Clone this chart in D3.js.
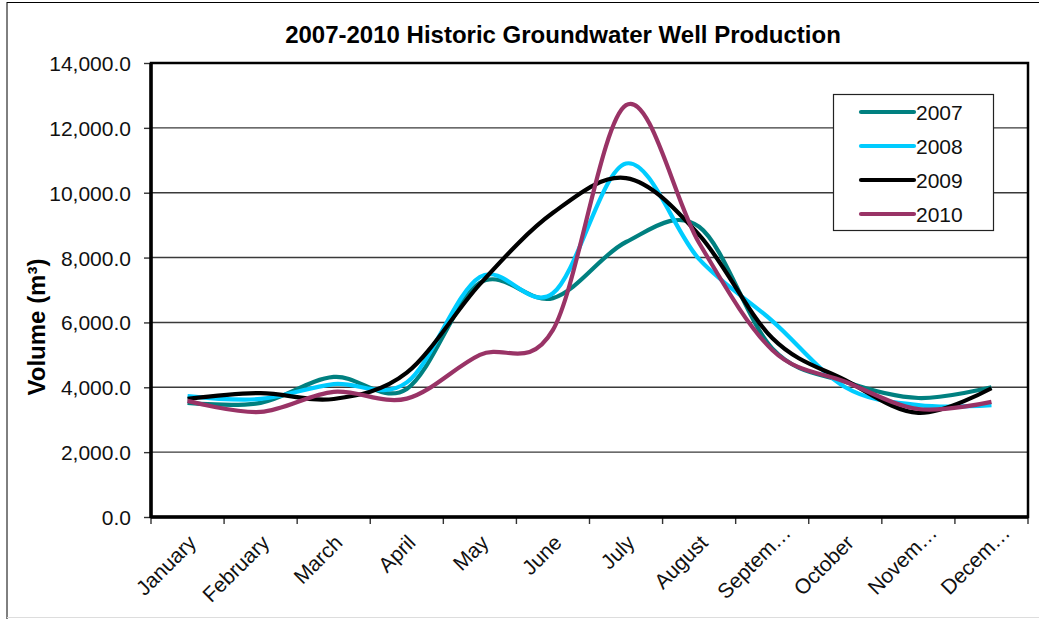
<!DOCTYPE html>
<html>
<head>
<meta charset="utf-8">
<script src="https://cdn.jsdelivr.net/npm/d3@7"></script>
<style>
  body { margin: 0; background: #fff; }
  svg { display: block; font-family: "Liberation Sans", Arial, sans-serif; }
</style>
</head>
<body>
<svg id="chart" width="1039" height="619"></svg>
<script>
// months on the x axis (Excel cut the long ones)
const months = ["January", "February", "March", "April", "May", "June", "July",
  "August", "Septem\u2026", "October", "Novem\u2026", "Decem\u2026"];
const years = ["2007", "2008", "2009", "2010"];
const colors = ["#008080", "#00ccff", "#000000", "#993366"];

// monthly volume, m3
const v2007 = [3520, 3520, 4320, 3950, 7220, 6750, 8480, 8950, 5200, 4170, 3670, 4000];
const v2008 = [3730, 3640, 4100, 4150, 7400, 6900, 10900, 7950, 6050, 4000, 3450, 3450];
const v2009 = [3640, 3820, 3640, 4450, 7180, 9380, 10450, 8700, 5520, 4220, 3210, 3970];
const v2010 = [3580, 3240, 3860, 3650, 5000, 5770, 12700, 8450, 5150, 4170, 3330, 3550];
const series = [v2007, v2008, v2009, v2010];

const yTicks = [0, 2000, 4000, 6000, 8000, 10000, 12000, 14000];

const svg = d3.select("#chart");
const plotL = 151, plotR = 1028, plotT = 63, plotB = 517;

// outer chart frame
svg.append("line").attr("x1", 7).attr("x2", 7).attr("y1", 2).attr("y2", 619)
  .attr("stroke", "#000").attr("stroke-width", 1);
svg.append("line").attr("x1", 7).attr("x2", 1039).attr("y1", 2.5).attr("y2", 2.5)
  .attr("stroke", "#000").attr("stroke-width", 1);
svg.append("line").attr("x1", 7).attr("x2", 1039).attr("y1", 617.5).attr("y2", 617.5)
  .attr("stroke", "#ddd").attr("stroke-width", 1);

const x = d3.scaleBand().domain(months).range([plotL, plotR]);
const y = d3.scaleLinear().domain([0, 14000]).range([plotB, plotT]);

// grid
svg.append("g").selectAll("line")
  .data(yTicks.slice(1, -1))
  .enter().append("line")
  .attr("x1", plotL).attr("x2", plotR)
  .attr("y1", d => y(d)).attr("y2", d => y(d))
  .attr("stroke", "#3a3a3a").attr("stroke-width", 1.4);

// y axis
const yAxis = svg.append("g")
  .attr("transform", "translate(" + plotL + ",0)")
  .call(d3.axisLeft(y).tickValues(yTicks).tickFormat(d3.format(",.1f")).tickSize(7).tickPadding(13));
yAxis.select(".domain").remove();
yAxis.selectAll("line").attr("stroke", "#333").attr("stroke-width", 1.4);
yAxis.selectAll("text").attr("font-size", "21px").attr("fill", "#111").attr("dy", "0.36em");

// x axis ticks at band edges
const edges = months.map(m => x(m)).concat([plotR]);
svg.append("g").selectAll("line")
  .data(edges)
  .enter().append("line")
  .attr("x1", d => d).attr("x2", d => d)
  .attr("y1", plotB).attr("y2", plotB + 7)
  .attr("stroke", "#333").attr("stroke-width", 1.4);

svg.append("g").selectAll("text")
  .data(months)
  .enter().append("text")
  .attr("transform", d => "translate(" + (x(d) + x.bandwidth() / 2 + 10) + "," + 544 + ") rotate(-45)")
  .attr("text-anchor", "end")
  .attr("dx", d => d.endsWith("\u2026") ? 14 : 0)
  .attr("font-size", "21px")
  .attr("fill", "#111")
  .text(d => d);

// plot frame
svg.append("rect")
  .attr("x", plotL).attr("y", plotT)
  .attr("width", plotR - plotL).attr("height", plotB - plotT)
  .attr("fill", "none").attr("stroke", "#000").attr("stroke-width", 2.5);
svg.append("line").attr("x1", plotL).attr("x2", plotL).attr("y1", plotT).attr("y2", plotB + 1)
  .attr("stroke", "#000").attr("stroke-width", 3.5);
svg.append("line").attr("x1", plotL).attr("x2", plotR).attr("y1", plotB).attr("y2", plotB)
  .attr("stroke", "#000").attr("stroke-width", 3.5);

// lines, Excel style smoothing
const line = d3.line()
  .x((d, i) => x(months[i]) + x.bandwidth() / 2)
  .y(d => y(d))
  .curve(d3.curveCatmullRom.alpha(0));

svg.append("g").selectAll("path")
  .data(series)
  .enter().append("path")
  .attr("d", line)
  .attr("fill", "none")
  .attr("stroke", (d, i) => colors[i])
  .attr("stroke-width", 4.2)
  .attr("stroke-linejoin", "round");

// title
svg.append("text")
  .attr("x", 563).attr("y", 43)
  .attr("text-anchor", "middle")
  .attr("font-size", "24px").attr("font-weight", "bold")
  .text("2007-2010 Historic Groundwater Well Production");

svg.append("text")
  .attr("transform", "translate(45,327) rotate(-90)")
  .attr("text-anchor", "middle")
  .attr("font-size", "24px").attr("font-weight", "bold")
  .text("Volume (m\u00b3)");

// legend
const legend = svg.append("g");
legend.append("rect")
  .attr("x", 833.5).attr("y", 94.5).attr("width", 160).attr("height", 136)
  .attr("fill", "#fff").attr("stroke", "#222").attr("stroke-width", 1.2);
const item = legend.selectAll("g.item")
  .data(years)
  .enter().append("g").attr("class", "item")
  .attr("transform", (d, i) => "translate(0," + (112 + i * 34) + ")");
item.append("line")
  .attr("x1", 861).attr("x2", 914)
  .attr("stroke", (d, i) => colors[i])
  .attr("stroke-width", 4.2).attr("stroke-linecap", "round");
item.append("text")
  .attr("x", 916).attr("y", 8)
  .attr("font-size", "21px").attr("fill", "#111")
  .text(d => d);
</script>
</body>
</html>
